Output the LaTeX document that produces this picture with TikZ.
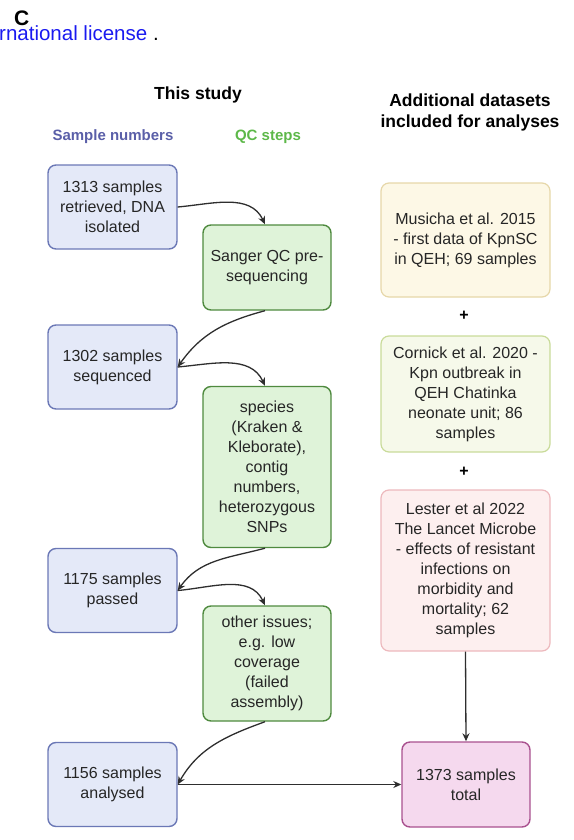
\documentclass[tikz,border=0pt]{standalone}
\usepackage{fontspec}
\setmainfont{Liberation Sans}
\usetikzlibrary{arrows.meta}
\definecolor{bfill}{HTML}{E4E9F8}
\definecolor{bdraw}{HTML}{6B78B6}
\definecolor{gfill}{HTML}{DFF3D9}
\definecolor{gdraw}{HTML}{4F8A3F}
\definecolor{yfill}{HTML}{FDF8E6}
\definecolor{ydraw}{HTML}{E6D7A9}
\definecolor{lgfill}{HTML}{F6F9EA}
\definecolor{lgdraw}{HTML}{C9DB9A}
\definecolor{pfill}{HTML}{FDEFEF}
\definecolor{pdraw}{HTML}{EDB9BD}
\definecolor{mfill}{HTML}{F5D9EE}
\definecolor{mdraw}{HTML}{A9518F}
\definecolor{snum}{HTML}{5A5FA8}
\definecolor{qcs}{HTML}{5DB849}
\definecolor{lic}{HTML}{1A1AF0}
\definecolor{conn}{HTML}{2E2E2E}
\tikzset{
  box/.style={rectangle, rounded corners=8pt, line width=1.4pt, align=center,
    font=\fontsize{16}{20}\selectfont, inner sep=2pt, text=black!85},
  bluebox/.style={box, fill=bfill, draw=bdraw, minimum width=129pt, minimum height=84pt},
  greenbox/.style={box, fill=gfill, draw=gdraw, minimum width=128pt},
  databox/.style={box, line width=1.2pt, minimum width=169pt},
  hdr/.style={font=\bfseries\fontsize{17.5}{21}\selectfont, align=center},
  sub/.style={font=\bfseries\fontsize{15}{18}\selectfont},
  plus/.style={font=\bfseries\fontsize{16}{18}\selectfont},
  conn/.style={draw=conn, line width=1.3pt, -{Stealth[length=8pt,width=7pt]}}
}
\begin{document}
\begin{tikzpicture}[x=1pt,y=-1pt]
\useasboundingbox (0,0) rectangle (573,840);
% top fragment
\node[anchor=base west, inner sep=0, font=\fontsize{20.5}{22}\selectfont] (lic) at (-1,41) {\textcolor{lic}{rnational license}\ .};
\node[anchor=base west, inner sep=0, font=\bfseries\fontsize{21}{22}\selectfont] (c) at (14,26) {C};
% headers
\node[hdr] (thisstudy) at (198,95) {This study};
\node[hdr] (addl) at (470,112) {Additional datasets\\included for analyses};
\node[sub, text=snum] (samplenum) at (113,137) {Sample numbers};
\node[sub, text=qcs] (qcsteps) at (268,137) {QC steps};
% blue boxes
\node[bluebox] (b1) at (112.5,207) {1313 samples\\retrieved, DNA\\isolated};
\node[bluebox] (b2) at (112.5,367) {1302 samples\\sequenced};
\node[bluebox] (b3) at (112.5,590.5) {1175 samples\\passed};
\node[bluebox] (b4) at (112.5,784.5) {1156 samples\\analysed};
% green boxes
\node[greenbox, minimum height=85pt] (g1) at (267,267.5) {Sanger QC pre-\\sequencing};
\node[greenbox, minimum height=161pt] (g2) at (267,467) {species\\(Kraken \&\\Kleborate),\\contig\\numbers,\\heterozygous\\SNPs};
\node[greenbox, minimum height=115pt] (g3) at (267,663.5) {other issues;\\e.g. low\\coverage\\(failed\\assembly)};
% datasets
\node[databox, fill=yfill, draw=ydraw, minimum height=114pt] (d1) at (465.5,240) {Musicha et al. 2015\\- first data of KpnSC\\in QEH; 69 samples};
\node[plus] (plus1) at (464,316) {+};
\node[databox, fill=lgfill, draw=lgdraw, minimum height=116pt] (d2) at (465.5,394) {Cornick et al. 2020 -\\Kpn outbreak in\\QEH Chatinka\\neonate unit; 86\\samples};
\node[plus] (plus2) at (464,472) {+};
\node[databox, fill=pfill, draw=pdraw, minimum height=161pt] (d3) at (465.5,570.5) {Lester et al 2022\\The Lancet Microbe\\- effects of resistant\\infections on\\morbidity and\\mortality; 62\\samples};
\node[box, fill=mfill, draw=mdraw, minimum width=128pt, minimum height=85pt] (tot) at (466,784.5) {1373 samples\\total};
% connectors
\draw[conn] (b1.east) to[out=5,in=115] ([xshift=-2pt]g1.north);
\draw[conn] ([xshift=-2pt]g1.south) to[out=195,in=55] (b2.east);
\draw[conn] (b2.east) to[out=5,in=115] ([xshift=-2pt]g2.north);
\draw[conn] ([xshift=-2pt]g2.south) to[out=195,in=55] (b3.east);
\draw[conn] (b3.east) to[out=5,in=115] ([xshift=-2pt]g3.north);
\draw[conn] ([xshift=-2pt]g3.south) to[out=200,in=60] (b4.east);
\draw[conn] (b4.east) -- (tot.west);
\draw[conn] (d3.south) -- (tot.north);
\end{tikzpicture}
\end{document}
